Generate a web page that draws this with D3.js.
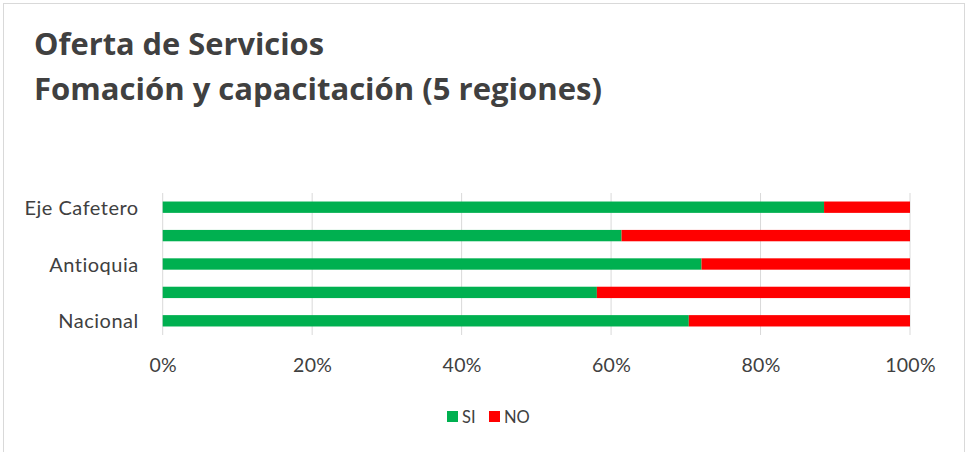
<!DOCTYPE html>
<html>
<head>
<meta charset="utf-8">
<script src="https://cdn.jsdelivr.net/npm/d3@7"></script>
<style>
  body { margin: 0; background: #fff; }
  text { font-family: Lato, "Open Sans", sans-serif; }
  text.title { font-family: "Open Sans", sans-serif; font-weight: bold; font-size: 31px; }
</style>
</head>
<body>
<div id="container"></div>
<script>
var w = 968
var h = 452

// data (bottom to top, as in the spreadsheet)
var categories = ["Nacional", "", "Antioquia", "", "Eje Cafetero"]
var si = [70.4, 58.1, 72.1, 61.4, 88.5]
var no = [29.6, 41.9, 27.9, 38.6, 11.5]
var seriesNames = ["SI", "NO"]
var seriesColors = ["#00B050", "#FF0000"]
var xTicks = [0, 0.2, 0.4, 0.6, 0.8, 1]

var svg = d3.select("#container").append("svg")
    .attr("width", w)
    .attr("height", h)

// chart frame
svg.append("rect")
    .attr("x", 3.5).attr("y", 3.5)
    .attr("width", w - 7).attr("height", h)
    .attr("fill", "#fff")
    .attr("stroke", "#d9d9d9")

// title
var title = svg.append("g").attr("fill", "#404040")
title.append("text").attr("class", "title").attr("x", 34).attr("y", 55)
    .attr("textLength", 290).attr("lengthAdjust", "spacingAndGlyphs")
    .text("Oferta de Servicios")
title.append("text").attr("class", "title").attr("x", 34).attr("y", 100)
    .attr("textLength", 568).attr("lengthAdjust", "spacingAndGlyphs")
    .text("Fomación y capacitación (5 regiones)")

var x = d3.scaleLinear().domain([0, 1]).range([162.7, 910])
var y = d3.scaleBand().domain(d3.range(categories.length)).range([335, 193]).paddingInner(0.6).paddingOuter(0.3)

// gridlines
svg.append("g")
    .selectAll("line")
    .data(xTicks)
    .enter()
    .append("line")
    .attr("x1", d => x(d)).attr("x2", d => x(d))
    .attr("y1", 193).attr("y2", 335)
    .attr("stroke", "#d9d9d9")
    .attr("stroke-width", 1)

// stacked bars
var rows = categories.map(function (c, i) {
    var total = si[i] + no[i]
    return { i: i, SI: si[i] / total, NO: no[i] / total }
})
var stack = d3.stack().keys(seriesNames)(rows)

svg.append("g")
    .selectAll("g")
    .data(stack)
    .enter()
    .append("g")
    .attr("fill", (d, k) => seriesColors[k])
    .selectAll("rect")
    .data(d => d)
    .enter()
    .append("rect")
    .attr("x", d => x(d[0]))
    .attr("width", d => x(d[1]) - x(d[0]))
    .attr("y", d => y(d.data.i))
    .attr("height", y.bandwidth())

// y axis labels
var yAxis = svg.append("g")
    .attr("transform", "translate(" + x(0) + ",0)")
    .call(d3.axisLeft(y).tickSize(0).tickPadding(24).tickFormat(i => categories[i]))
yAxis.select(".domain").remove()
yAxis.selectAll("text").style("font-size", "20px").attr("fill", "#404040")
    .attr("dy", "0.38em").style("letter-spacing", "0.5px")

// x axis labels
var xAxis = svg.append("g")
    .attr("transform", "translate(0,358)")
    .call(d3.axisBottom(x).tickValues(xTicks).tickSize(0).tickPadding(0).tickFormat(d3.format(".0%")))
xAxis.select(".domain").remove()
xAxis.selectAll("text").style("font-size", "19.5px").attr("fill", "#404040").style("letter-spacing", "0.3px")

// legend
var legend = svg.append("g").attr("transform", "translate(447,411)")
var lx = [0, 42]
seriesNames.forEach(function (s, k) {
    legend.append("rect").attr("x", lx[k]).attr("y", 0).attr("width", 11).attr("height", 11).attr("fill", seriesColors[k])
    legend.append("text").attr("x", lx[k] + 15).attr("y", 11.5).style("font-size", "16.5px").attr("fill", "#404040").text(s)
})
</script>
</body>
</html>
